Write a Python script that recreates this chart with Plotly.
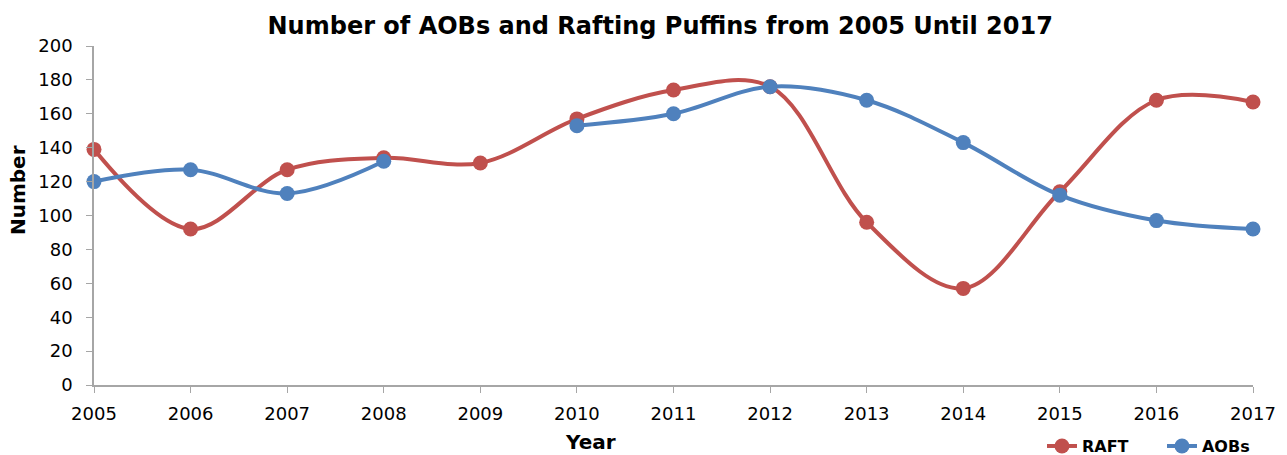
import plotly.graph_objects as go

years = list(range(2005, 2018))
raft = [139, 92, 127, 134, 131, 157, 174, 176, 96, 57, 114, 168, 167]
aobs = [120, 127, 113, 132, None, 153, 160, 176, 168, 143, 112, 97, 92]
y_ticks = list(range(0, 201, 20))

RED = "#C0504D"
BLUE = "#4F81BD"
FONT = "DejaVu Sans"

fig = go.Figure()
fig.add_trace(go.Scatter(
    x=years, y=raft, name="<b>RAFT</b>", mode="lines+markers",
    line=dict(color=RED, width=4, shape="spline", smoothing=1.0),
    marker=dict(color=RED, size=15), cliponaxis=False,
))
fig.add_trace(go.Scatter(
    x=years, y=aobs, name="<b>AOBs</b>", mode="lines+markers",
    line=dict(color=BLUE, width=4, shape="spline", smoothing=1.0),
    marker=dict(color=BLUE, size=15), cliponaxis=False, connectgaps=False,
))

fig.update_layout(
    width=1287, height=455,
    margin=dict(l=94, r=34, t=46, b=70, autoexpand=False),
    paper_bgcolor="white", plot_bgcolor="white",
    font=dict(family=FONT, color="black", size=17),
    title=dict(text="<b>Number of AOBs and Rafting Puffins from 2005 Until 2017</b>",
               x=0.513, xanchor="center", y=0.943, yanchor="middle",
               font=dict(size=24, family=FONT, color="black")),
    xaxis=dict(range=[2005, 2017], tickmode="array", tickvals=years,
               ticktext=[str(y) for y in years],
               showline=True, linecolor="#A6A6A6", linewidth=1.5,
               ticks="outside", ticklen=6, tickcolor="#A6A6A6",
               showgrid=False, zeroline=False,
               tickfont=dict(size=18), ticklabelstandoff=6),
    yaxis=dict(range=[0, 200], tickmode="array", tickvals=y_ticks,
               showline=True, linecolor="#A6A6A6", linewidth=1.5,
               ticks="outside", ticklen=6, tickcolor="#A6A6A6",
               showgrid=False, zeroline=False,
               tickfont=dict(size=18), ticklabelstandoff=10),
    legend=dict(orientation="h", x=1.025, xanchor="right", y=-0.13, yanchor="top",
                font=dict(size=16, family=FONT), entrywidth=75, entrywidthmode="pixels",
                bgcolor="rgba(0,0,0,0)"),
    showlegend=True,
    annotations=[
        dict(text="<b>Year</b>", xref="paper", yref="paper", x=0.428, y=-0.168,
             xanchor="center", yanchor="middle", showarrow=False,
             font=dict(size=20, family=FONT, color="black")),
        dict(text="<b>Number</b>", xref="paper", yref="paper", x=-0.0656, y=0.575,
             xanchor="center", yanchor="middle", showarrow=False, textangle=-90,
             font=dict(size=20, family=FONT, color="black")),
    ],
)

fig.write_html("out.html")
